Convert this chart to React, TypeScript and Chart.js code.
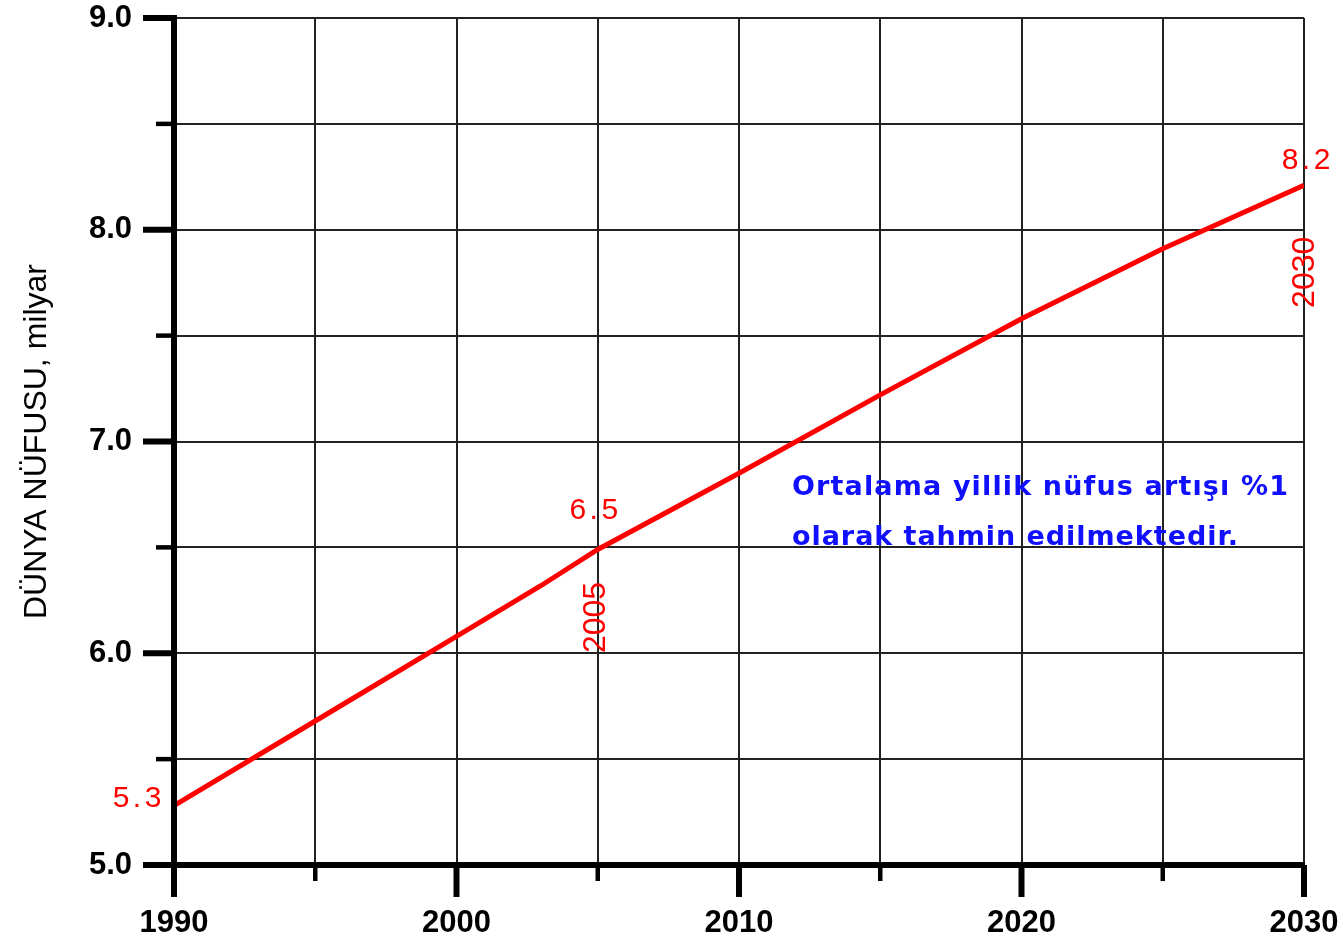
import React, { useEffect, useRef } from 'react';
import { Chart, registerables } from 'chart.js';

Chart.register(...registerables);

// ---- data ----
const years = [1990, 1995, 2000, 2003, 2005, 2010, 2015, 2020, 2025, 2030];
const population = [5.28, 5.68, 6.08, 6.32, 6.49, 6.85, 7.22, 7.58, 7.91, 8.21];

const xMajorTicks = [1990, 2000, 2010, 2020, 2030];
const xMinorTicks = [1995, 2005, 2015, 2025];
const yMajorTicks = [5, 6, 7, 8, 9];
const yMinorTicks = [5.5, 6.5, 7.5, 8.5];

const valueLabels = ['5.3', '6.5', '8.2'];
const valueLabelYears = [1990, 2005, 2030];
const yearLabels = ['2005', '2030'];

const yAxisTitle = 'DÜNYA NÜFUSU, milyar';
const noteLines = ['Ortalama yillik nüfus artışı %1', 'olarak tahmin edilmektedir.'];

const valueAt = (yr: number) => population[years.indexOf(yr)];

function fillSpaced(ctx: CanvasRenderingContext2D, text: string, cx: number, cy: number, spacing: number) {
  // draws text centred at (cx, cy) with extra spacing between characters
  const widths = Array.from(text).map((c) => ctx.measureText(c).width);
  const total = widths.reduce((a, b) => a + b, 0) + spacing * (widths.length - 1);
  let x = cx - total / 2;
  const prevAlign = ctx.textAlign;
  ctx.textAlign = 'left';
  Array.from(text).forEach((c, i) => {
    ctx.fillText(c, x, cy);
    x += widths[i] + spacing;
  });
  ctx.textAlign = prevAlign;
}

const overlayPlugin = {
  id: 'overlay',
  afterDraw(chart: any) {
    const ctx = chart.ctx as CanvasRenderingContext2D;
    const xs = chart.scales.x;
    const ys = chart.scales.y;
    const x0 = xs.getPixelForValue(1990);
    const x1 = xs.getPixelForValue(2030);
    const y0 = ys.getPixelForValue(5);
    const y1 = ys.getPixelForValue(9);
    ctx.save();
    ctx.strokeStyle = '#000';
    ctx.lineCap = 'butt';
    // axis lines
    ctx.lineWidth = 6;
    ctx.beginPath();
    ctx.moveTo(x0, y1 - 3);
    ctx.lineTo(x0, y0);
    ctx.moveTo(x0, y0);
    ctx.lineTo(x1 + 1, y0);
    ctx.stroke();
    // y ticks
    yMajorTicks.forEach((v) => {
      const p = ys.getPixelForValue(v);
      ctx.lineWidth = 6;
      ctx.beginPath();
      ctx.moveTo(x0 - 31, p);
      ctx.lineTo(x0, p);
      ctx.stroke();
    });
    yMinorTicks.forEach((v) => {
      const p = ys.getPixelForValue(v);
      ctx.lineWidth = 4.5;
      ctx.beginPath();
      ctx.moveTo(x0 - 18, p);
      ctx.lineTo(x0, p);
      ctx.stroke();
    });
    // x ticks
    xMajorTicks.forEach((v) => {
      const p = xs.getPixelForValue(v);
      ctx.lineWidth = 6;
      ctx.beginPath();
      ctx.moveTo(p, y0);
      ctx.lineTo(p, y0 + 32);
      ctx.stroke();
    });
    xMinorTicks.forEach((v) => {
      const p = xs.getPixelForValue(v);
      ctx.lineWidth = 4.5;
      ctx.beginPath();
      ctx.moveTo(p, y0);
      ctx.lineTo(p, y0 + 16);
      ctx.stroke();
    });

    // red value labels
    ctx.fillStyle = '#ff0000';
    ctx.font = "30px 'Liberation Sans'";
    ctx.textAlign = 'center';
    ctx.textBaseline = 'middle';
    const valOffsets = [
      [-37, -7],
      [-4, -39],
      [2, -25],
    ];
    valueLabels.forEach((t, i) => {
      const yr = valueLabelYears[i];
      const px = xs.getPixelForValue(yr) + valOffsets[i][0];
      const py = ys.getPixelForValue(valueAt(yr)) + valOffsets[i][1];
      fillSpaced(ctx, t, px, py, 3.5);
    });
    // rotated year labels
    ctx.font = "32px 'Liberation Sans'";
    const yrOffsets = [
      [-2, 68],
      [1, 87],
    ];
    yearLabels.forEach((t, i) => {
      const yr = Number(t);
      const px = xs.getPixelForValue(yr) + yrOffsets[i][0];
      const py = ys.getPixelForValue(valueAt(yr)) + yrOffsets[i][1];
      ctx.save();
      ctx.translate(px, py);
      ctx.rotate(-Math.PI / 2);
      fillSpaced(ctx, t, 0, 0, 0);
      ctx.restore();
    });

    // blue note
    ctx.fillStyle = '#1010ff';
    ctx.font = "bold 27px 'DejaVu Sans'";
    ctx.textAlign = 'left';
    ctx.textBaseline = 'alphabetic';
    const targetW = [496, 446];
    const baselines = [495, 545];
    noteLines.forEach((line, i) => {
      (ctx as any).letterSpacing = '0px';
      const w = ctx.measureText(line).width;
      const ls = (targetW[i] - w) / Math.max(1, line.length - 1);
      (ctx as any).letterSpacing = ls.toFixed(2) + 'px';
      ctx.fillText(line, 792, baselines[i]);
    });
    (ctx as any).letterSpacing = '0px';
    ctx.restore();
  },
};

export default function App() {
  const ref = useRef<HTMLCanvasElement | null>(null);
  useEffect(() => {
    if (!ref.current) return;
    const chart = new Chart(ref.current, {
      type: 'line',
      data: {
        datasets: [
          {
            data: years.map((x, i) => ({ x, y: population[i] })),
            borderColor: '#ff0000',
            borderWidth: 5,
            pointRadius: 0,
            tension: 0,
            fill: false,
          },
        ],
      },
      options: {
        responsive: false,
        animation: false,
        plugins: { legend: { display: false }, tooltip: { enabled: false } },
        layout: { padding: { top: 18, right: 39, left: 0, bottom: 0 } },
        scales: {
          x: {
            type: 'linear',
            min: 1990,
            max: 2030,
            afterFit: (s: any) => {
              s.height = 79;
              s.paddingLeft = 0;
              s.paddingRight = 0;
            },
            ticks: {
              stepSize: 5,
              autoSkip: false,
              maxRotation: 0,
              padding: 40,
              color: '#000',
              font: { family: "'Liberation Sans', Arial", size: 31, weight: 'bold' },
              callback: (v: any) => (Number(v) % 10 === 0 ? String(v) : ''),
            },
            grid: { color: '#222', lineWidth: 2, drawTicks: false },
            border: { display: false },
          },
          y: {
            type: 'linear',
            min: 5,
            max: 9,
            afterFit: (s: any) => {
              s.width = 174;
              s.paddingTop = 0;
              s.paddingBottom = 0;
            },
            ticks: {
              stepSize: 0.5,
              autoSkip: false,
              padding: 42,
              color: '#000',
              font: { family: "'Liberation Sans', Arial", size: 31, weight: 'bold' },
              callback: (v: any) => (Number(v) % 1 === 0 ? Number(v).toFixed(1) : ''),
            },
            grid: { color: '#222', lineWidth: 2, drawTicks: false },
            border: { display: false },
            title: {
              display: true,
              text: yAxisTitle,
              color: '#000',
              font: { family: "'Liberation Sans', Arial", size: 32 },
              padding: { top: 18, bottom: 0 },
            },
          },
        },
      },
      plugins: [overlayPlugin],
    });
    return () => chart.destroy();
  }, []);
  return (
    <div style={{ position: 'absolute', left: 0, top: 0, width: 1343, height: 944, background: '#fff' }}>
      <canvas ref={ref} width={1343} height={944} />
    </div>
  );
}
